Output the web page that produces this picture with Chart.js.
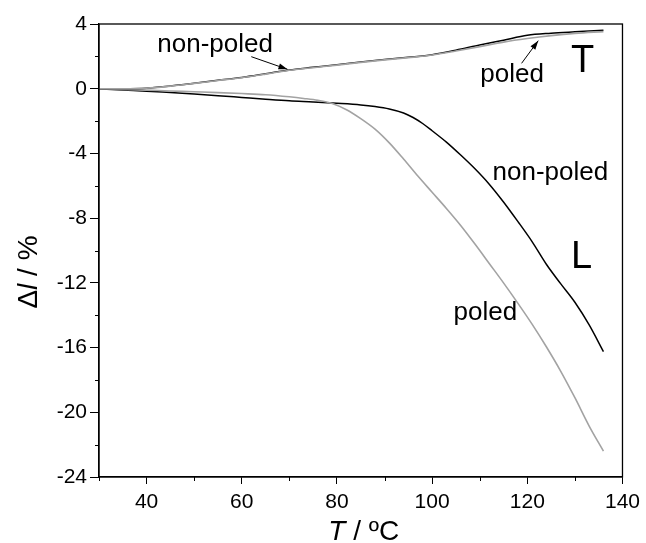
<!DOCTYPE html>
<html>
<head>
<meta charset="utf-8">
<script src="https://cdn.jsdelivr.net/npm/chart.js@4.4.0/dist/chart.umd.min.js"></script>
<style>
  body { margin: 0; background: #fff; }
  #wrap { width: 646px; height: 543px; }
</style>
</head>
<body>
<div id="wrap"><canvas id="myChart" width="646" height="543"></canvas></div>
<script>
// transverse (T) curves
var tempT = [30,35,40,45,50,55,60,65,70,75,80,85,90,95,100,105,110,115,120,125,130,136];
var tNonPoled = [0,0.0,0.03,0.17,0.34,0.52,0.69,0.92,1.16,1.32,1.48,1.65,1.8,1.94,2.1,2.38,2.7,3.0,3.3,3.43,3.52,3.62];
var tPoled = [0,0.0,0.03,0.16,0.33,0.51,0.68,0.9,1.14,1.3,1.46,1.63,1.78,1.92,2.08,2.33,2.6,2.88,3.1,3.28,3.42,3.53];

// longitudinal (L) curves
var tempLnp = [30,35,40,45,50,55,60,65,70,75,80,85,88,91,94,96,98,100,103,106,109,112,115,118,121,124,127,130,133,136];
var lNonPoled = [0,-0.08,-0.15,-0.24,-0.33,-0.43,-0.54,-0.65,-0.75,-0.82,-0.9,-1.0,-1.1,-1.25,-1.5,-1.78,-2.15,-2.6,-3.3,-4.1,-4.95,-5.9,-7.0,-8.2,-9.45,-10.85,-12.05,-13.2,-14.6,-16.25];
var tempLp = [30,35,40,45,50,55,60,65,70,73,76,79,82,85,88,91,94,97,100,103,106,109,112,115,118,121,124,127,130,133,136];
var lPoled = [0,-0.04,-0.09,-0.14,-0.19,-0.24,-0.3,-0.37,-0.5,-0.6,-0.72,-0.92,-1.3,-1.85,-2.5,-3.35,-4.35,-5.4,-6.4,-7.4,-8.45,-9.6,-10.8,-12.0,-13.25,-14.55,-15.95,-17.45,-19.1,-20.85,-22.4];

// text labels in data units (x centre, baseline y)
var labelText = ['non-poled','poled','T','non-poled','L','poled'];
var labelX = [54.4,116.8,131.6,124.85,131.4,111.2];
var labelY = [2.24,0.43,1.05,-5.64,-11.1,-14.3];
var labelSize = [26,26,38,26,38,26];
// arrows [x0,y0,x1,y1] (head at end)
var arrows = [[62.0,1.98,69.6,1.2],[118.8,1.57,122.3,2.97]];

var fontName = 'Liberation Sans, Arial, sans-serif';

function pts(xs, ys){
  return xs.map(function(x,i){ return {x:x, y:ys[i]}; });
}

var extras = {
  id: 'extras',
  afterDraw: function(chart){
    var c = chart.ctx, a = chart.chartArea;
    var xs = chart.scales.x, ys = chart.scales.y;
    c.save();
    // frame
    c.strokeStyle = '#000';
    c.lineWidth = 1.3;
    c.strokeRect(a.left, a.top, a.right - a.left, a.bottom - a.top);

    // minor ticks (short)
    c.lineWidth = 1;
    c.beginPath();
    xs.ticks.forEach(function(t){
      if(t.value % 20 !== 0){
        var px = Math.round(xs.getPixelForValue(t.value)) + 0.5;
        c.moveTo(px, a.bottom); c.lineTo(px, a.bottom + 4);
      }
    });
    ys.ticks.forEach(function(t){
      if(t.value % 4 !== 0){
        var py = Math.round(ys.getPixelForValue(t.value)) + 0.5;
        c.moveTo(a.left, py); c.lineTo(a.left - 4, py);
      }
    });
    c.stroke();

    // labels
    c.fillStyle = '#000';
    c.textAlign = 'center';
    c.textBaseline = 'alphabetic';
    for(var i = 0; i < labelText.length; i++){
      c.font = labelSize[i] + 'px ' + fontName;
      c.fillText(labelText[i], xs.getPixelForValue(labelX[i]), ys.getPixelForValue(labelY[i]));
    }

    // arrows
    c.lineWidth = 1;
    arrows.forEach(function(ar){
      var x0 = xs.getPixelForValue(ar[0]), y0 = ys.getPixelForValue(ar[1]);
      var x1 = xs.getPixelForValue(ar[2]), y1 = ys.getPixelForValue(ar[3]);
      var ang = Math.atan2(y1 - y0, x1 - x0);
      c.beginPath(); c.moveTo(x0, y0); c.lineTo(x1, y1); c.stroke();
      c.beginPath();
      c.moveTo(x1, y1);
      c.lineTo(x1 - 9*Math.cos(ang) + 3*Math.sin(ang), y1 - 9*Math.sin(ang) - 3*Math.cos(ang));
      c.lineTo(x1 - 9*Math.cos(ang) - 3*Math.sin(ang), y1 - 9*Math.sin(ang) + 3*Math.cos(ang));
      c.closePath(); c.fill();
    });

    // x title: italic T / ºC
    var size = 28;
    c.textAlign = 'left';
    c.font = 'italic ' + size + 'px ' + fontName;
    var w1 = c.measureText('T').width;
    c.font = size + 'px ' + fontName;
    var w2 = c.measureText(' / \u00baC').width;
    var cx = (a.left + a.right) / 2 + 3 - (w1 + w2) / 2;
    var by = 540;
    c.font = 'italic ' + size + 'px ' + fontName;
    c.fillText('T', cx, by);
    c.font = size + 'px ' + fontName;
    c.fillText(' / \u00baC', cx + w1, by);

    // y title: Δl / %
    c.translate(37, 272);
    c.rotate(-Math.PI / 2);
    c.font = size + 'px ' + fontName;
    var v1 = c.measureText('\u0394').width, v3 = c.measureText(' / %').width;
    c.font = 'italic ' + size + 'px ' + fontName;
    var v2 = c.measureText('l').width;
    var sx = -(v1 + v2 + v3) / 2;
    c.font = size + 'px ' + fontName;
    c.fillText('\u0394', sx, 0);
    c.font = 'italic ' + size + 'px ' + fontName;
    c.fillText('l', sx + v1, 0);
    c.font = size + 'px ' + fontName;
    c.fillText(' / %', sx + v1 + v2, 0);
    c.restore();
  }
};

var myChart = new Chart(document.getElementById('myChart'), {
  type: 'line',
  data: {
    datasets: [
      { label: 'T poled', data: pts(tempT, tPoled), borderColor: '#a3a3a3', borderWidth: 1.6 },
      { label: 'T non-poled', data: pts(tempT, tNonPoled), borderColor: '#000', borderWidth: 1.5 },
      { label: 'L poled', data: pts(tempLp, lPoled), borderColor: '#a3a3a3', borderWidth: 1.6 },
      { label: 'L non-poled', data: pts(tempLnp, lNonPoled), borderColor: '#000', borderWidth: 1.5 }
    ]
  },
  options: {
    responsive: false,
    animation: false,
    elements: { point: { radius: 0 }, line: { cubicInterpolationMode: 'monotone', fill: false } },
    layout: { padding: { top: 24, right: 17, left: 0, bottom: 0 } },
    plugins: { legend: { display: false }, tooltip: { enabled: false } },
    scales: {
      x: {
        type: 'linear', min: 30, max: 140,
        grid: {
          drawOnChartArea: false, tickLength: 7, tickWidth: 1,
          tickColor: function(ctx){ return ctx.tick && ctx.tick.value % 20 === 0 ? '#000' : 'rgba(0,0,0,0)'; }
        },
        border: { color: '#000', width: 1.3 },
        ticks: {
          stepSize: 10, autoSkip: false, maxRotation: 0, color: '#000',
          font: { family: fontName, size: 21 }, padding: 6,
          callback: function(v){ return v % 20 === 0 ? v : ''; }
        },
        afterFit: function(s){ s.height = 66; }
      },
      y: {
        min: -24, max: 4,
        grid: {
          drawOnChartArea: false, tickLength: 9, tickWidth: 1,
          tickColor: function(ctx){ return ctx.tick && ctx.tick.value % 4 === 0 ? '#000' : 'rgba(0,0,0,0)'; }
        },
        border: { color: '#000', width: 1.3 },
        ticks: {
          stepSize: 2, autoSkip: false, color: '#000',
          font: { family: fontName, size: 21 }, padding: 3,
          callback: function(v){ return v % 4 === 0 ? v : ''; }
        },
        afterFit: function(s){ s.width = 99; }
      }
    }
  },
  plugins: [extras]
});
</script>
</body>
</html>
